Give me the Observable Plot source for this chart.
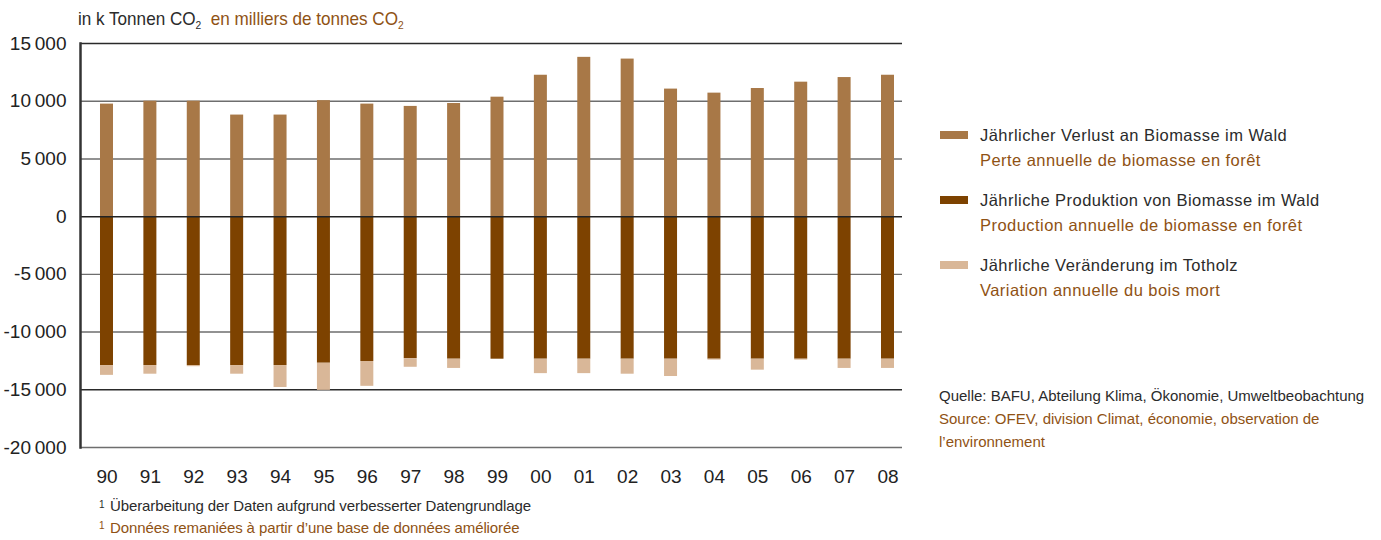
<!DOCTYPE html>
<html><head><meta charset="utf-8">
<script src="https://cdn.jsdelivr.net/npm/d3@7"></script>
<script src="https://cdn.jsdelivr.net/npm/@observablehq/plot@0.6"></script>
<style>
body{margin:0;background:#fff;}
#wrap{position:relative;width:1381px;height:540px;overflow:hidden;font-family:"Liberation Sans Narrow","Arial Narrow","Liberation Sans",sans-serif;}
#chart{position:absolute;left:0;top:0;}
.abs{position:absolute;white-space:nowrap;}
.de{color:#2b2b2b;}
.fr{color:#8f5214;}
sub{font-size:60%;vertical-align:-0.35em;line-height:0;}
.sw{position:absolute;width:28px;height:8px;}
.leg{font-size:16.5px;line-height:16.5px;letter-spacing:0.45px;}
.src{font-size:15px;line-height:23px;letter-spacing:0px;}
.fn{font-size:15px;line-height:21.5px;letter-spacing:-0.1px;}
.sup{font-size:10px;line-height:10px;}
#title{transform:scaleX(0.9);transform-origin:0 0;}
</style></head>
<body><div id="wrap">
<div class="abs" id="title" style="left:78px;top:9px;font-size:19px;line-height:19px;"></div>
<div id="chart"></div>
<div id="legend"></div>
<div id="source"></div>
<div id="foot"></div>
</div>
<script>
// ---- data ----
const years = ["90","91","92","93","94","95","96","97","98","99","00","01","02","03","04","05","06","07","08"];
const loss       = [9750, 10000, 10000, 8800, 8800, 10050, 9750, 9550, 9800, 10350, 12250, 13800, 13650, 11050, 10700, 11100, 11650, 12050, 12250];
const production = [-12900, -12900, -12900, -12900, -12900, -12700, -12550, -12300, -12350, -12350, -12350, -12350, -12350, -12350, -12350, -12350, -12350, -12350, -12350];
const deadwood   = [-850, -750, -100, -750, -1900, -2350, -2150, -750, -800, 0, -1250, -1250, -1300, -1500, -80, -950, -80, -800, -800];
const seriesKeys = ["loss","production","deadwood"];
const seriesColors = ["#a87847","#7d4200","#d9b798"];
const legendDE = ["Jährlicher Verlust an Biomasse im Wald","Jährliche Produktion von Biomasse im Wald","Jährliche Veränderung im Totholz"];
const legendFR = ["Perte annuelle de biomasse en forêt","Production annuelle de biomasse en forêt","Variation annuelle du bois mort"];
const yTicks = [15000, 10000, 5000, 0, -5000, -10000, -15000, -20000];
const darkGrid = [15000, -15000];
const grayGrid = [10000, 5000, -5000, -10000, -20000];
const titleDE = "in k Tonnen CO";
const titleFR = "en milliers de tonnes CO";
const sourceDE = "Quelle: BAFU, Abteilung Klima, Ökonomie, Umweltbeobachtung";
const sourceFR = ["Source: OFEV, division Climat, économie, observation de", "l’environnement"];
const footDE = "Überarbeitung der Daten aufgrund verbesserter Datengrundlage";
const footFR = "Données remaniées à partir d’une base de données améliorée";

// ---- table ----
const rows = [];
years.forEach((y, i) => {
  rows.push({year: y, series: "loss", value: loss[i]});
  rows.push({year: y, series: "production", value: production[i]});
  rows.push({year: y, series: "deadwood", value: deadwood[i]});
});

const loc = d3.formatLocale({decimal: ".", thousands: "\u2009", grouping: [3], currency: ["", ""], minus: "-"});
const fmt = loc.format(",");

const FONT = '"Liberation Sans Narrow","Arial Narrow","Liberation Sans",sans-serif';
const plot = Plot.plot({
  width: 920, height: 500,
  marginTop: 43, marginBottom: 53, marginLeft: 80, marginRight: 18,
  style: {fontFamily: FONT, fontSize: "19px", color: "#222", background: "transparent"},
  x: {domain: years, paddingInner: 0.7004, paddingOuter: 0.3227, align: 0.714, round: false, label: null, tickSize: 0, tickPadding: 22},
  y: {domain: [-20000, 15000], ticks: yTicks, tickFormat: fmt, tickSize: 0, tickPadding: 14, label: null},
  color: {domain: seriesKeys, range: seriesColors},
  marks: [
    Plot.ruleY(grayGrid, {stroke: "#6e6e6e", strokeWidth: 1.4}),
    Plot.ruleY(darkGrid, {stroke: "#2a2a2a", strokeWidth: 1.4}),
    Plot.barY(rows, {x: "year", y: "value", fill: "series", order: seriesKeys}),
    Plot.ruleY([0], {stroke: "#222", strokeWidth: 1.5}),
    Plot.frame({anchor: "left", stroke: "#333", strokeWidth: 2.5})
  ]
});
document.getElementById("chart").appendChild(plot);

// ---- title ----
document.getElementById("title").innerHTML =
  `<span class="de">${titleDE}<sub>2</sub></span>&nbsp;&nbsp;<span class="fr">${titleFR}<sub>2</sub></span>`;

// ---- legend ----
const lg = document.getElementById("legend");
seriesKeys.forEach((k, i) => {
  const top = 127 + i * 65;
  lg.insertAdjacentHTML("beforeend",
    `<div class="sw" style="left:940px;top:${131 + i * 65}px;background:${seriesColors[i]}"></div>
     <div class="abs leg de" style="left:980px;top:${top}px">${legendDE[i]}</div>
     <div class="abs leg fr" style="left:980px;top:${top + 25}px">${legendFR[i]}</div>`);
});

// ---- source ----
document.getElementById("source").innerHTML =
  `<div class="abs src de" style="left:939px;top:384px">${sourceDE}</div>
   <div class="abs src fr" style="left:939px;top:407px">${sourceFR[0]}</div>
   <div class="abs src fr" style="left:939px;top:430px">${sourceFR[1]}</div>`;

// ---- footnote ----
document.getElementById("foot").innerHTML =
  `<div class="abs sup de" style="left:99px;top:500px">1</div>
   <div class="abs fn de" style="left:110px;top:495px">${footDE}</div>
   <div class="abs sup fr" style="left:99px;top:521px">1</div>
   <div class="abs fn fr" style="left:110px;top:517px">${footFR}</div>`;
</script>
</body></html>
